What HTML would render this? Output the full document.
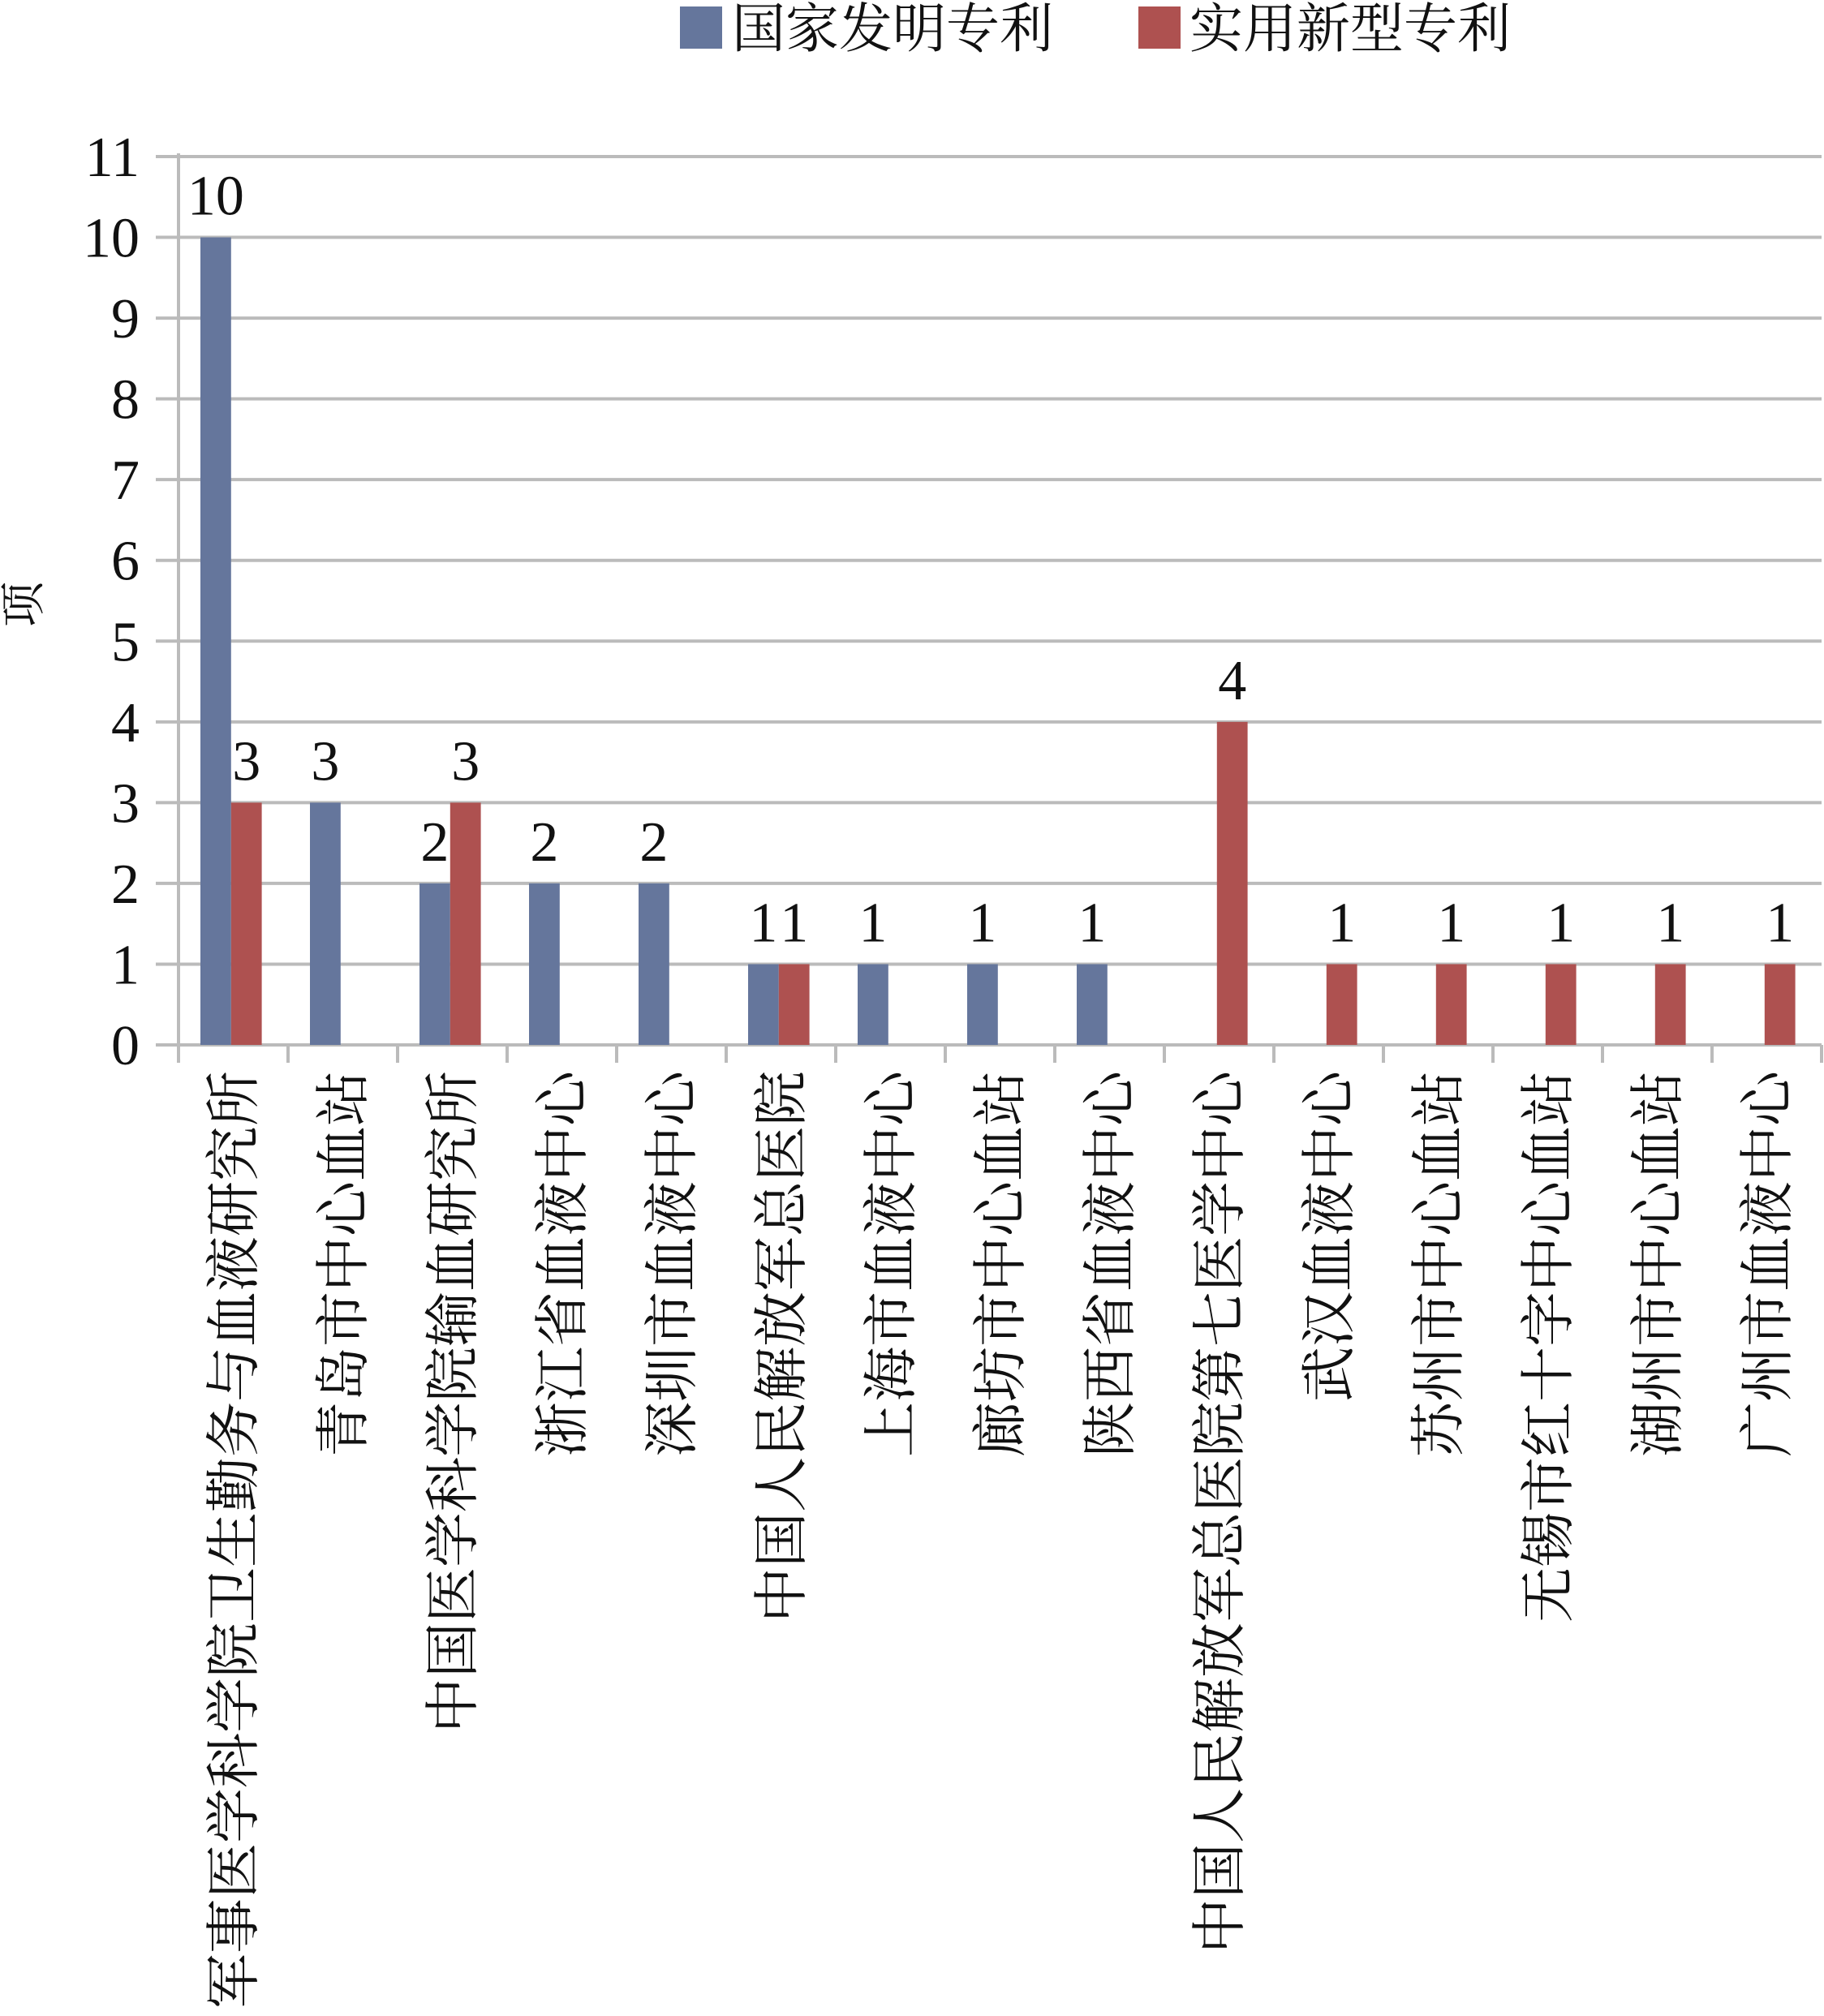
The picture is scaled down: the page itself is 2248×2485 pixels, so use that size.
<!DOCTYPE html>
<html><head><meta charset="utf-8"><style>
html,body{margin:0;padding:0;background:#fff}
svg text{font-family:"Liberation Serif","Noto Serif CJK SC","Noto Sans CJK SC",serif}
</style></head><body>
<svg id="chart" width="2248" height="2480" viewBox="0 0 2248 2480" xmlns="http://www.w3.org/2000/svg">
<g>
<rect x="838" y="8" width="52" height="52" fill="#65769c"/>
<text x="902" y="58" font-size="66" fill="#111">国家发明专利</text>
<rect x="1403" y="8" width="52" height="52" fill="#ae5150"/>
<text x="1466" y="58" font-size="66" fill="#111">实用新型专利</text>
</g>
<text transform="translate(48,745) rotate(-90)" text-anchor="middle" font-size="56" fill="#111">项</text>
<g id="grid"></g><g id="bars"></g><g id="labels"></g>
</svg>
<script>
const categories = ["军事医学科学院卫生勤务与血液研究所","青岛市中心血站","中国医学科学院输血研究所","浙江省血液中心","深圳市血液中心","中国人民解放军总医院","上海市血液中心","廊坊市中心血站","陕西省血液中心","中国人民解放军总医院第七医学中心","武汉血液中心","苏州市中心血站","无锡市红十字中心血站","湖州市中心血站","广州市血液中心"];
const inventionValues = [10,3,2,2,2,1,1,1,1,0,0,0,0,0,0];
const utilityValues = [3,0,3,0,0,1,0,0,0,4,1,1,1,1,1];
const yTicks = [0,1,2,3,4,5,6,7,8,9,10,11];

const NS="http://www.w3.org/2000/svg";
const x0=220,x1=2245,yBase=1288,yTop=193,yMax=11;
const bw=(x1-x0)/categories.length;
const y=v=>yBase-(v/yMax)*(yBase-yTop);
const xc=i=>x0+i*bw;
function mk(tag,attrs,parent){const e=document.createElementNS(NS,tag);for(const k in attrs)e.setAttribute(k,attrs[k]);parent.appendChild(e);return e;}
const grid=document.getElementById('grid'),bars=document.getElementById('bars'),labels=document.getElementById('labels');
yTicks.forEach(t=>{
  const l=mk('line',{x1:192,x2:x1,y1:y(t),y2:y(t),stroke:'#bbb','stroke-width':4},grid);
  
  
  const tx=mk('text',{x:172,y:y(t)+24,'text-anchor':'end','font-size':70,fill:'#111'},grid);
  tx.textContent=t;
  
  
});
const ax=mk('line',{x1:x0,x2:x0,y1:yTop-4,y2:yBase+22,stroke:'#bbb','stroke-width':4},grid);


for(let i=0;i<=categories.length;i++){
  const tk=mk('line',{x1:xc(i),x2:xc(i),y1:yBase,y2:yBase+22,stroke:'#bbb','stroke-width':4},grid);
  
  
}
categories.forEach((c,i)=>{
  const bx=xc(i)+bw*0.2;
  const w=bw*0.28;
  [[inventionValues[i],'#65769c',bx,'invention'],[utilityValues[i],'#ae5150',bx+w,'utility']].forEach(([v,col,px,s])=>{
    if(v<=0)return;
    const r=mk('rect',{x:px,y:y(v),width:w,height:yBase-y(v),fill:col},bars);
    
    
    const t=mk('text',{x:px+w/2,y:y(v)-28,'text-anchor':'middle','font-size':70,fill:'#111'},labels);
    t.textContent=v;
    
    
  });
  const cx=xc(i)+bw/2;
  const ct=mk('text',{transform:`translate(${cx+24},1320) rotate(-90)`,'text-anchor':'end','font-size':68,fill:'#111'},labels);
  ct.textContent=c;
  
  
});
</script>
</body></html>
